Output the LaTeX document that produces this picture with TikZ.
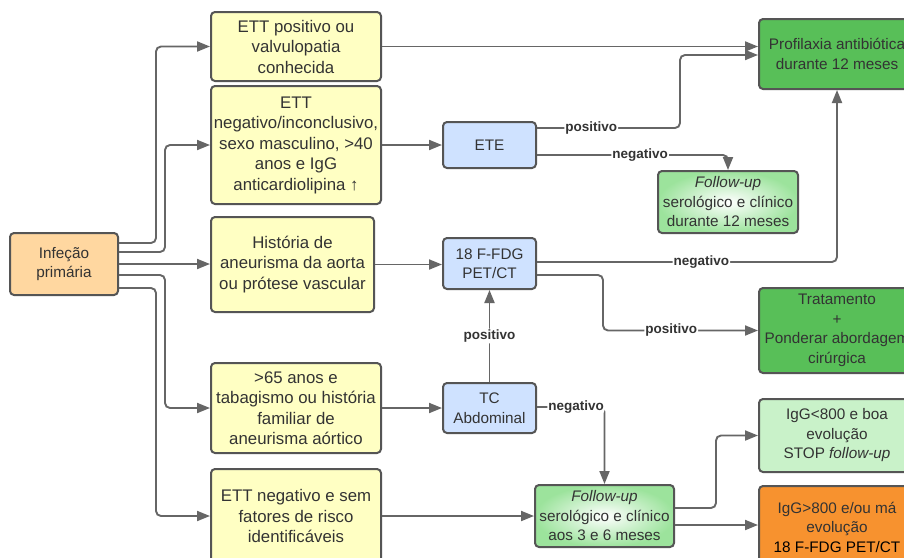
\documentclass[tikz,border=0pt]{standalone}
\usepackage{fontspec}
\setmainfont{Liberation Sans}
\usetikzlibrary{arrows.meta,calc}
\definecolor{yel}{HTML}{FFFFC3}
\definecolor{blu}{HTML}{CFE2FF}
\definecolor{pea}{HTML}{FFD7A0}
\definecolor{dgr}{HTML}{58BF58}
\definecolor{lgr}{HTML}{C9F2C9}
\definecolor{fgr}{HTML}{9CE39C}
\definecolor{org}{HTML}{F7922F}
\definecolor{bord}{HTML}{555555}
\definecolor{lin}{HTML}{666666}
\definecolor{txt}{HTML}{333333}
\tikzset{
  box/.style={draw=bord, line width=2pt, rounded corners=4pt, align=center,
    text=txt, inner sep=0pt, font=\fontsize{15.3}{19.5}\selectfont},
  ybox/.style={box, fill=yel, font=\fontsize{16.8}{20.5}\selectfont},
  conn/.style={draw=lin, line width=1.9pt, rounded corners=5pt,
    -{Triangle[length=13pt,width=10pt]}},
  lbl/.style={fill=white, inner sep=1pt, text=txt,
    font=\bfseries\fontsize{13.5}{15}\selectfont}
}
\begin{document}
\begin{tikzpicture}[x=1pt,y=-1pt]
\useasboundingbox (0,0) rectangle (904,557);
\clip (0,0) rectangle (904,557);
\fill[white] (0,0) rectangle (904,557);
% nodes
\node[box, fill=pea, minimum width=108pt, minimum height=62pt] (inf) at (64,264) {Infeção\\primária};
\node[ybox, minimum width=170pt, minimum height=69pt] (y1) at (296,46.5) {ETT positivo ou\\valvulopatia\\conhecida};
\node[ybox, minimum width=170pt, minimum height=118pt] (y2) at (296,145) {ETT\\negativo/inconclusivo,\\sexo masculino, >40\\anos e IgG\\anticardiolipina ↑};
\node[ybox, minimum width=163pt, minimum height=95pt] (y3) at (292.5,264.5) {História de\\aneurisma da aorta\\ou prótese vascular};
\node[ybox, minimum width=170pt, minimum height=90pt] (y4) at (296,408) {>65 anos e\\tabagismo ou história\\familiar de\\aneurisma aórtico};
\node[ybox, minimum width=170pt, minimum height=94pt] (y5) at (296,516) {ETT negativo e sem\\fatores de risco\\identificáveis};
\node[box, fill=blu, minimum width=93pt, minimum height=46pt] (ete) at (489.5,145) {ETE};
\node[box, fill=blu, minimum width=93pt, minimum height=51pt] (pet) at (489.5,263.5) {18 F-FDG\\PET/CT};
\node[box, fill=blu, minimum width=93pt, minimum height=50pt] (tc) at (489.5,408) {TC\\Abdominal};
\node[box, fill=dgr, minimum width=156pt, minimum height=70pt] (prof) at (837,54) {Profilaxia antibiótica\\durante 12 meses};
\node[box, inner color=white, outer color=fgr, minimum width=140pt, minimum height=62pt] (fu1) at (728,202) {\itshape Follow-up\\serológico e clínico\\durante 12 meses};
\node[box, fill=dgr, minimum width=156pt, minimum height=85pt] (trat) at (837,330.5) {Tratamento\\+\\Ponderar abordagem\\cirúrgica};
\node[box, fill=lgr, minimum width=156pt, minimum height=73pt] (igl) at (837,435.5) {IgG<800 e boa\\evolução\\STOP \itshape follow-up};
\node[box, fill=org, minimum width=156pt, minimum height=82pt] (igh) at (837,527) {IgG>800 e/ou má\\evolução\\\color{black}18 F-FDG PET/CT};
\node[box, inner color=white, outer color=fgr, minimum width=139pt, minimum height=62pt] (fu2) at (604.5,516) {\itshape Follow-up\\serológico e clínico\\aos 3 e 6 meses};
% connectors
\draw[conn] ([yshift=21pt]inf.east) -| ([xshift=-54pt]y1.west) -- (y1.west);
\draw[conn] ([yshift=12pt]inf.east) -| ([xshift=-45pt]y2.west) -- (y2.west);
\draw[conn] (inf.east) -- (inf.east -| y3.west);
\draw[conn] ([yshift=-11pt]inf.east) -| ([xshift=-45pt]y4.west) -- (y4.west);
\draw[conn] ([yshift=-24pt]inf.east) -| ([xshift=-54pt]y5.west) -- (y5.west);
\draw[conn] (y1.east) -- (y1.east -| prof.west);
\draw[conn] (y2.east) -- (ete.west);
\draw[conn] ([yshift=17pt]ete.east) -| node[lbl,pos=0.19]{positivo} ([xshift=-78pt,yshift=-1pt]prof.west) -- ([yshift=-1pt]prof.west);
\draw[conn] ([yshift=-10pt]ete.east) -| node[lbl,pos=0.27]{negativo} (fu1.north);
\draw[conn] (y3.east) -- (y3.east -| pet.west);
\draw[conn] ([yshift=1.5pt]pet.east) -| node[lbl,pos=0.274]{negativo} (prof.south);
\draw[conn] ([yshift=-11.5pt]pet.east) -| ([xshift=-155pt]trat.west) -- node[lbl,pos=0.44]{positivo} (trat.west);
\draw[conn] (tc.north) -- node[lbl,pos=0.5]{positivo} (pet.south);
\draw[conn] (y4.east) -- (tc.west);
\draw[conn] ([yshift=1pt]tc.east) -| node[lbl,pos=0.29]{negativo} (fu2.north);
\draw[conn] (y5.east) -- (y5.east -| fu2.west);
\draw[conn] ([yshift=8pt]fu2.east) -| ([xshift=-42pt]igl.west) -- (igl.west);
\draw[conn] ([yshift=-9pt]fu2.east) -- ([yshift=-9pt]fu2.east -| igh.west);
\end{tikzpicture}
\end{document}
